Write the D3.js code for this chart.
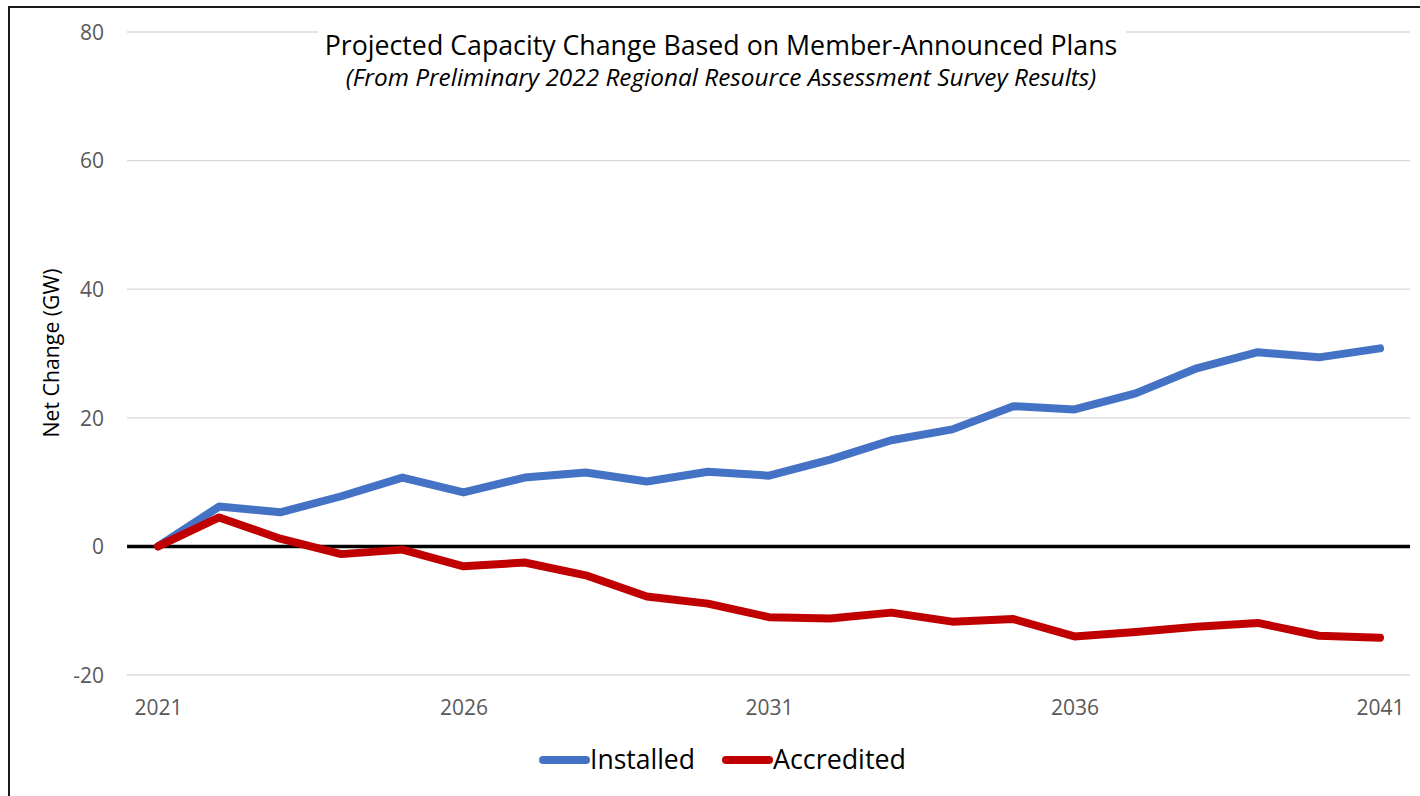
<!DOCTYPE html>
<html>
<head>
<meta charset="utf-8">
<script src="https://cdn.jsdelivr.net/npm/d3@7"></script>
<style>
  html, body { margin: 0; padding: 0; background: #fff; }
  svg { display: block; }
  text { font-family: "Open Sans", "Noto Sans", sans-serif; }
</style>
</head>
<body>
<svg id="chart" width="1420" height="796"></svg>
<script>
const years = d3.range(2021, 2042);
const installed = [0, 6.2, 5.3, 7.8, 10.7, 8.4, 10.7, 11.5, 10.1, 11.6, 11.0, 13.5, 16.5, 18.2, 21.8, 21.3, 23.8, 27.7, 30.2, 29.4, 30.8];
const accredited = [0, 4.5, 1.2, -1.2, -0.5, -3.1, -2.5, -4.5, -7.8, -8.9, -11.0, -11.2, -10.3, -11.7, -11.3, -14.0, -13.3, -12.5, -11.9, -13.9, -14.2];
const yTicks = [-20, 0, 20, 40, 60, 80];
const xTickYears = [2021, 2026, 2031, 2036, 2041];
const seriesNames = ["Installed", "Accredited"];
const seriesColors = ["#4472C4", "#C00000"];
const titleText = "Projected Capacity Change Based on Member-Announced Plans";
const subtitleText = "(From Preliminary 2022 Regional Resource Assessment Survey Results)";
const yAxisTitle = "Net Change (GW)";

const svg = d3.select("#chart");

function fitWidth(sel, target) {
  const base = parseFloat(sel.attr("font-size"));
  const w = sel.node().getComputedTextLength();
  sel.attr("font-size", base * target / w);
}

// Border
svg.append("path")
  .attr("d", "M9,796 L9,7 L1420,7")
  .attr("fill", "none").attr("stroke", "#1a1a1a").attr("stroke-width", 2);

const x = d3.scaleLinear().domain([2021, 2041]).range([158, 1380]);
const y = d3.scaleLinear().domain([-20, 80]).range([675, 32]);
const gridX0 = 127, gridX1 = 1410;

// Gridlines
svg.append("g").selectAll("line").data(yTicks.filter(d => d !== 0)).join("line")
  .attr("x1", gridX0).attr("x2", gridX1)
  .attr("y1", d => y(d)).attr("y2", d => y(d))
  .attr("stroke", "#d9d9d9").attr("stroke-width", 1.3);

const fmt = d => String(d);

// Y tick labels via axis
const yAxis = svg.append("g").attr("transform", `translate(${gridX0},0)`)
  .call(d3.axisLeft(y).tickValues(yTicks).tickSize(0).tickPadding(23).tickFormat(fmt));
yAxis.select(".domain").remove();
yAxis.selectAll("text").attr("font-size", 21).attr("fill", "#595959")
  .attr("font-family", "'Open Sans', sans-serif").attr("dy", "0.35em");

// X tick labels via axis
const xAxis = svg.append("g").attr("transform", `translate(0,${y(-20)})`)
  .call(d3.axisBottom(x).tickValues(xTickYears).tickSize(0).tickPadding(25).tickFormat(fmt));
xAxis.select(".domain").remove();
xAxis.selectAll("text").attr("font-size", 21).attr("fill", "#595959")
  .attr("font-family", "'Open Sans', sans-serif");

// Title background + title
svg.append("rect").attr("x", 318).attr("y", 22).attr("width", 808).attr("height", 76).attr("fill", "#fff");
const t1 = svg.append("text").attr("x", 721).attr("y", 55).attr("text-anchor", "middle")
  .attr("font-size", 24).attr("fill", "#000").text(titleText);
fitWidth(t1, 793);
const t2 = svg.append("text").attr("x", 721).attr("y", 86).attr("text-anchor", "middle")
  .attr("font-size", 20).attr("font-style", "italic").attr("fill", "#000").text(subtitleText);
fitWidth(t2, 751);

// Y axis title
const yt = svg.append("text").attr("transform", "translate(59,353) rotate(-90)")
  .attr("text-anchor", "middle").attr("font-size", 17).attr("fill", "#000").text(yAxisTitle);
fitWidth(yt, 169);

// Zero line
svg.append("line").attr("x1", gridX0).attr("x2", gridX1)
  .attr("y1", y(0)).attr("y2", y(0)).attr("stroke", "#000").attr("stroke-width", 3.5);

// Lines
const line = d3.line().x((d, i) => x(years[i])).y(d => y(d));
[installed, accredited].forEach((s, k) => {
  svg.append("path").datum(s).attr("d", line)
    .attr("fill", "none").attr("stroke", seriesColors[k]).attr("stroke-width", 8)
    .attr("stroke-linejoin", "round").attr("stroke-linecap", "round");
});

// Legend
const legendItems = [
  { name: seriesNames[0], color: seriesColors[0], lx0: 543, lx1: 586, tx: 590, w: 105 },
  { name: seriesNames[1], color: seriesColors[1], lx0: 726, lx1: 769, tx: 773, w: 133 }
];
legendItems.forEach(it => {
  svg.append("line").attr("x1", it.lx0).attr("x2", it.lx1).attr("y1", 760).attr("y2", 760)
    .attr("stroke", it.color).attr("stroke-width", 8).attr("stroke-linecap", "round");
  const tt = svg.append("text").attr("x", it.tx).attr("y", 769).attr("font-size", 26)
    .attr("fill", "#000").text(it.name);
  fitWidth(tt, it.w);
});
</script>
</body>
</html>
